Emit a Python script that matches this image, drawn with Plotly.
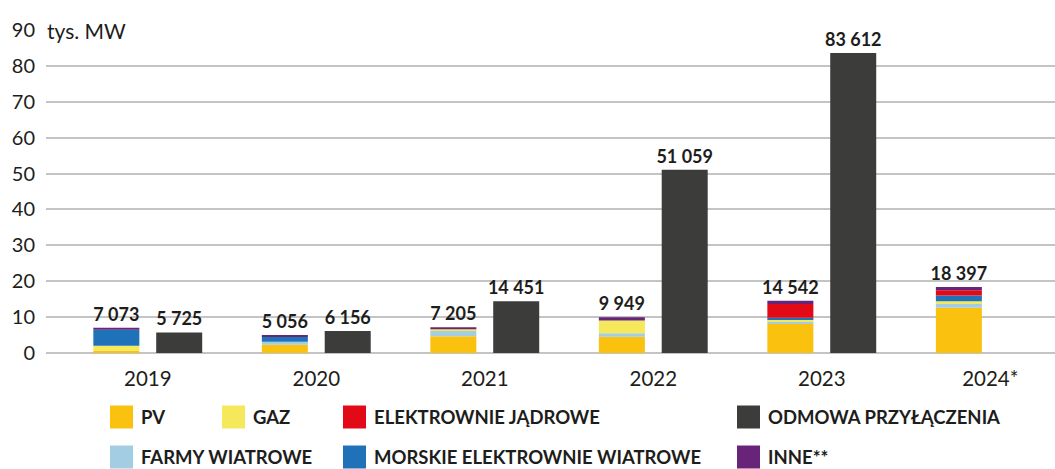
import numpy as np
import plotly.graph_objects as go

# ---------------- data (tys. MW) ----------------
years = ["2019", "2020", "2021", "2022", "2023", "2024*"]
pv = [0.60, 2.30, 4.70, 4.50, 8.10, 12.60]
farmy = [0.00, 0.85, 1.60, 1.00, 0.80, 1.30]
gaz = [1.45, 0.00, 0.30, 3.55, 0.45, 0.50]
morskie = [4.45, 1.40, 0.00, 0.00, 0.45, 1.65]
jadrowe = [0.00, 0.00, 0.00, 0.00, 3.85, 1.40]
inne = [0.57, 0.50, 0.60, 0.90, 0.90, 0.95]
totals = [7.073, 5.056, 7.205, 9.949, 14.542, 18.397]
odmowa = [5.725, 6.156, 14.451, 51.059, 83.612, None]

series_names = ["PV", "FARMY WIATROWE", "GAZ", "MORSKIE ELEKTROWNIE WIATROWE",
                "ELEKTROWNIE JĄDROWE", "INNE**"]
odmowa_name = "ODMOWA PRZYŁĄCZENIA"
y_ticks = [0, 10, 20, 30, 40, 50, 60, 70, 80, 90]
unit_label = "tys. MW"

# ---------------- styles ----------------
colors = {
    "PV": "#FAC10F",
    "FARMY WIATROWE": "#A3CDE2",
    "GAZ": "#F5E85A",
    "MORSKIE ELEKTROWNIE WIATROWE": "#1F71B8",
    "ELEKTROWNIE JĄDROWE": "#E20A17",
    "INNE**": "#682479",
    odmowa_name: "#3C3C3B",
}
FONT = "Lato"
W, H = 1055, 469
ML, MR, MT, MB = 46, 0, 30, 116
PW, PH = W - ML - MR, H - MT - MB


def fmt(v):
    return f"{int(round(v * 1000)):,}".replace(",", " ")


fig = go.Figure()

stack = [pv, farmy, gaz, morskie, jadrowe, inne]
base = np.zeros(len(years))
for name, vals in zip(series_names, stack):
    vals = np.array(vals, dtype=float)
    is_top = name == series_names[-1]
    fig.add_trace(go.Bar(
        x=years, y=vals, base=base.copy(), name=name,
        marker=dict(color=colors[name], line=dict(width=0)),
        offset=-0.323, width=0.273,
        text=[fmt(t) for t in totals] if is_top else None,
        textposition="outside" if is_top else "none",
        textfont=dict(family=FONT, size=18, color="#1d1d1b", weight="bold"),
        constraintext="none", cliponaxis=False, showlegend=False,
    ))
    base = base + vals

fig.add_trace(go.Bar(
    x=years, y=odmowa, name=odmowa_name,
    marker=dict(color=colors[odmowa_name], line=dict(width=0)),
    offset=0.05, width=0.273,
    text=[fmt(v) if v is not None else "" for v in odmowa],
    textposition="outside",
    textfont=dict(family=FONT, size=18, color="#1d1d1b", weight="bold"),
    constraintext="none", cliponaxis=False, showlegend=False,
))

# ---------------- manual legend ----------------
legend_items = [
    ("PV", 110, 417), ("GAZ", 222, 417), ("ELEKTROWNIE JĄDROWE", 343, 417),
    (odmowa_name, 737, 417),
    ("FARMY WIATROWE", 110, 457), ("MORSKIE ELEKTROWNIE WIATROWE", 343, 457),
    ("INNE**", 737, 457),
]
SQ = 23
shapes, annotations = [], []


def px_to_paper_x(px):
    return (px - ML) / PW


def px_to_paper_y(py):
    return (MT + PH - py) / PH


for name, lx, ly in legend_items:
    shapes.append(dict(
        type="rect", xref="paper", yref="paper",
        x0=px_to_paper_x(lx), x1=px_to_paper_x(lx + SQ),
        y0=px_to_paper_y(ly + SQ / 2), y1=px_to_paper_y(ly - SQ / 2),
        fillcolor=colors[name], line=dict(width=0), layer="above",
    ))
    annotations.append(dict(
        xref="paper", yref="paper", x=px_to_paper_x(lx + SQ + 6), y=px_to_paper_y(ly),
        xanchor="left", yanchor="middle", showarrow=False, text=name,
        font=dict(family=FONT, size=18.5, color="#1d1d1b", weight="bold"),
    ))

annotations.append(dict(
    xref="paper", yref="y", x=px_to_paper_x(43), y=90, xanchor="left", yanchor="middle",
    showarrow=False, text=unit_label, bgcolor="white", borderpad=3,
    font=dict(family=FONT, size=21, color="#1d1d1b"),
))

fig.update_layout(
    width=W, height=H,
    margin=dict(l=ML, r=MR, t=MT, b=MB, pad=0),
    paper_bgcolor="white", plot_bgcolor="white",
    barmode="overlay",
    showlegend=False,
    font=dict(family=FONT, color="#1d1d1b"),
    shapes=shapes, annotations=annotations,
    xaxis=dict(
        type="category", categoryorder="array", categoryarray=years,
        range=[-0.604, 5.384], showgrid=False, zeroline=False, showline=False,
        ticks="", ticklabelstandoff=11,
        tickfont=dict(family=FONT, size=20.5, color="#1d1d1b"),
    ),
    yaxis=dict(
        range=[0, 90], tickvals=y_ticks, showgrid=True, gridcolor="#C4C4C4",
        gridwidth=1.5, zeroline=True, zerolinecolor="#C4C4C4", zerolinewidth=1.5,
        showline=False, ticks="", ticklabelstandoff=10,
        tickfont=dict(family=FONT, size=20, color="#1d1d1b"),
    ),
)

fig.write_html("out.html")
